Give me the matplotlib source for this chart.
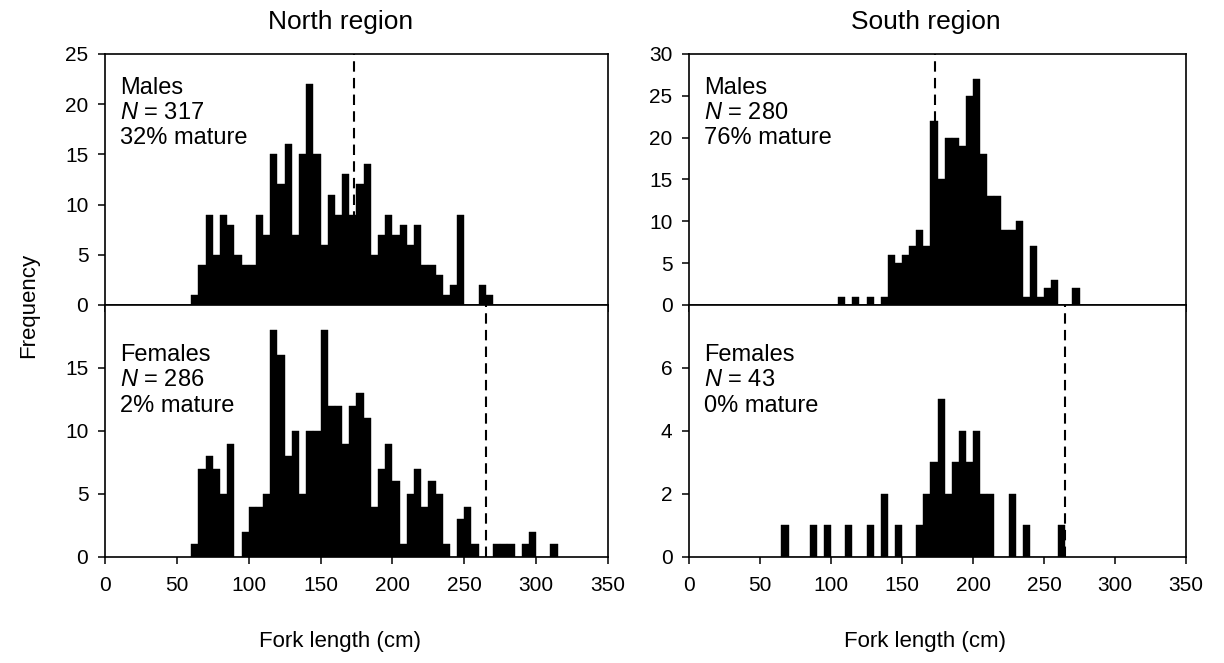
import numpy as np
import matplotlib
matplotlib.use("Agg")
import matplotlib.pyplot as plt

plt.rcParams['font.family'] = ['Liberation Sans', 'DejaVu Sans']
plt.rcParams['mathtext.fontset'] = 'custom'
plt.rcParams['mathtext.rm'] = 'Liberation Sans'
plt.rcParams['mathtext.it'] = 'Liberation Sans:italic'

# histogram counts, 5 cm bins, first bin given by *_start
north_male_start = 60
north_male = [1, 4, 9, 5, 9, 8, 5, 4, 4, 9, 7, 15, 12, 16, 7, 15, 22, 15, 6, 11,
              9, 13, 9, 12, 14, 5, 7, 9, 7, 8, 6, 8, 4, 4, 3, 1, 2, 9, 0, 0, 2, 1]
north_female_start = 60
north_female = [1, 7, 8, 7, 5, 9, 0, 2, 4, 4, 5, 18, 16, 8, 10, 5, 10, 10, 18, 12,
                12, 9, 12, 13, 11, 4, 7, 9, 6, 1, 5, 7, 4, 6, 5, 1, 0, 3, 4, 1,
                0, 0, 1, 1, 1, 0, 1, 2, 0, 0, 1]
south_male_start = 105
south_male = [1, 0, 1, 0, 1, 0, 1, 6, 5, 6, 7, 9, 7, 22, 15, 20, 20, 19, 25, 27,
              18, 13, 13, 9, 9, 10, 1, 7, 1, 2, 3, 0, 0, 2]
south_female_start = 65
south_female = [1, 0, 0, 0, 1, 0, 1, 0, 0, 1, 0, 0, 1, 0, 2, 0, 1, 0, 0, 1,
                2, 3, 5, 2, 3, 4, 3, 4, 2, 2, 0, 0, 2, 0, 1, 0, 0, 0, 0, 1]

maturity_length = [173, 265]   # dashed lines (males, females)
labels_north = ["Males\n$\\mathit{N}$ = 317\n32% mature",
                "Females\n$\\mathit{N}$ = 286\n2% mature"]
labels_south = ["Males\n$\\mathit{N}$ = 280\n76% mature",
                "Females\n$\\mathit{N}$ = 43\n0% mature"]

fig = plt.figure(figsize=(12.24, 6.63), dpi=100)

panels = [
    # left, bottom, width, height, start, counts, ylim, yticks, label, dash, xlabels
    (0.0858, 0.540, 0.4109, 0.3786, north_male_start, north_male, 25, [0, 5, 10, 15, 20, 25], labels_north[0], maturity_length[0], False),
    (0.0858, 0.160, 0.4109, 0.380, north_female_start, north_female, 20, [0, 5, 10, 15], labels_north[1], maturity_length[1], True),
    (0.5630, 0.540, 0.4060, 0.3786, south_male_start, south_male, 30, [0, 5, 10, 15, 20, 25, 30], labels_south[0], maturity_length[0], False),
    (0.5630, 0.160, 0.4060, 0.380, south_female_start, south_female, 8, [0, 2, 4, 6], labels_south[1], maturity_length[1], True),
]

for left, bottom, w, h, start, counts, ymax, yt, lab, dash, xlab in panels:
    ax = fig.add_axes([left, bottom, w, h])
    edges = np.arange(start, start + 5 * len(counts), 5)
    ax.bar(edges, counts, width=5, align='edge', color='black', edgecolor='black', linewidth=0.3)
    ax.axvline(dash, color='black', linestyle=(0, (5, 3)), linewidth=1.5)
    ax.set_xlim(0, 350)
    ax.set_ylim(0, ymax)
    ax.set_xticks(range(0, 351, 50))
    ax.set_yticks(yt)
    ax.tick_params(direction='out', length=5, width=1.1, labelsize=15)
    ax.tick_params(axis='x', pad=9)
    ax.tick_params(axis='y', pad=7)
    if not xlab:
        ax.set_xticklabels([])
    for s in ax.spines.values():
        s.set_linewidth(1.2)
    ypos = 0.91 if ymax in (25, 30) else 0.845
    ax.text(0.03, ypos, lab, transform=ax.transAxes, va='top', ha='left',
            fontsize=17, linespacing=1.2)

fig.text(0.2786, 0.967, "North region", ha='center', va='center', fontsize=19)
fig.text(0.7565, 0.967, "South region", ha='center', va='center', fontsize=19)
fig.text(0.278, 0.033, "Fork length (cm)", ha='center', va='center', fontsize=16)
fig.text(0.756, 0.033, "Fork length (cm)", ha='center', va='center', fontsize=16)
fig.text(0.023, 0.54, "Frequency", ha='center', va='center', rotation=90, fontsize=16)

fig.savefig("out.png", dpi=100)
